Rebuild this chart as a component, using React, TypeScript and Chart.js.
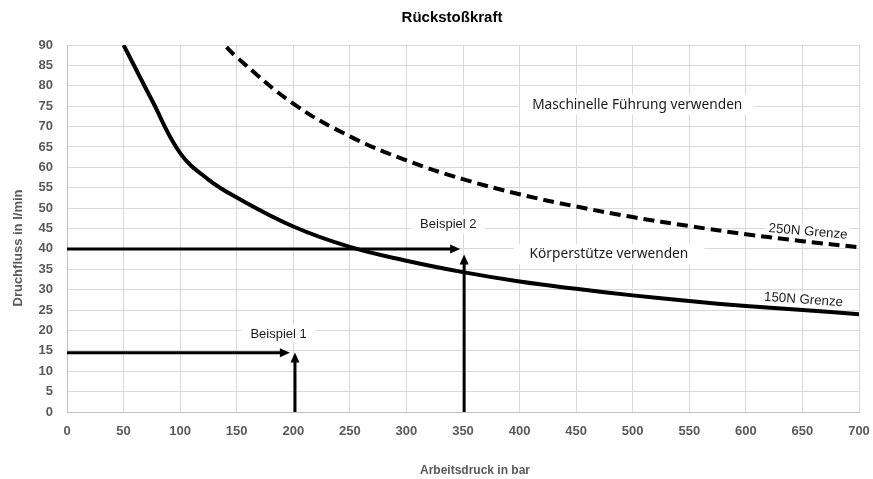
import { useEffect, useRef } from "react";
import { Chart, registerables } from "chart.js";

Chart.register(...registerables);

// ---- data ----
const xTicks = [0, 50, 100, 150, 200, 250, 300, 350, 400, 450, 500, 550, 600, 650, 700];
const yTicks = [0, 5, 10, 15, 20, 25, 30, 35, 40, 45, 50, 55, 60, 65, 70, 75, 80, 85, 90];

const pressure150N = [50, 75, 100, 125, 150, 200, 250, 300, 350, 400, 450, 500, 550, 600, 650, 700];
const flow150N = [90, 76.5, 63.5, 57, 52.6, 45.5, 40.5, 37.1, 34.3, 32, 30.2, 28.6, 27.2, 26, 25, 24];

const pressure250N = [141, 150, 200, 250, 300, 350, 400, 450, 500, 550, 600, 650, 700];
const flow250N = [89.5, 87, 75.6, 67.6, 61.7, 57.1, 53.4, 50.4, 47.8, 45.6, 43.6, 41.9, 40.4];

// example arrows: horizontal (from flow axis) and vertical (from pressure axis)
const exampleFlow = [14.5, 40];
const exampleHorizontalEnd = [197, 347.5];
const examplePressure = [201.5, 351];
const exampleVerticalTip = [14.6, 38.6];

// text notes (data coordinates)
const noteTexts = ["Beispiel 1", "Beispiel 2", "Körperstütze verwenden", "Maschinelle Führung verwenden", "250N Grenze", "150N Grenze"];
const noteX = [187, 337, 479, 504, 655, 651];
const noteY = [19.1, 46.1, 38.7, 75.3, 44.2, 27.5];

const chartTitle = "Rückstoßkraft";
const xTitle = "Arbeitsdruck in bar";
const yTitle = "Druchfluss in l/min";

const noteStyles = [
  { font: "13px 'Liberation Sans', Arial, sans-serif", rot: 0, padX: 9, h: 18 },
  { font: "13px 'Liberation Sans', Arial, sans-serif", rot: 0, padX: 9, h: 18 },
  { font: "13.7px 'Noto Sans', sans-serif", rot: 0, padX: 16, h: 20 },
  { font: "13.7px 'Noto Sans', sans-serif", rot: 0, padX: 12, h: 20 },
  { font: "13.3px 'Liberation Sans', Arial, sans-serif", rot: 0.085, padX: 3, h: 14 },
  { font: "13.3px 'Liberation Sans', Arial, sans-serif", rot: 0.07, padX: 3, h: 14 },
];

const overlayPlugin = {
  id: "overlay",
  beforeDatasetsDraw(chart: any) {
    const { ctx, scales } = chart;
    const xs = scales.x, ys = scales.y;
    ctx.save();
    noteTexts.forEach((t, i) => {
      const st = noteStyles[i];
      const px = xs.getPixelForValue(noteX[i]);
      const py = ys.getPixelForValue(noteY[i]);
      ctx.font = st.font;
      const w = ctx.measureText(t).width + st.padX * 2;
      ctx.save();
      ctx.translate(px, py);
      ctx.rotate(st.rot);
      ctx.fillStyle = "#ffffff";
      ctx.fillRect(-w / 2, -st.h / 2, w, st.h);
      ctx.restore();
    });
    ctx.restore();
  },
  afterDatasetsDraw(chart: any) {
    const { ctx, scales } = chart;
    const xs = scales.x, ys = scales.y;
    ctx.save();
    ctx.strokeStyle = "#000";
    ctx.fillStyle = "#000";
    ctx.lineWidth = 3;
    const head = 10, half = 4.5;
    for (let i = 0; i < exampleFlow.length; i++) {
      const y = ys.getPixelForValue(exampleFlow[i]);
      const x0 = xs.getPixelForValue(0);
      const x1 = xs.getPixelForValue(exampleHorizontalEnd[i]);
      ctx.beginPath();
      ctx.moveTo(x0, y);
      ctx.lineTo(x1 - head + 1, y);
      ctx.stroke();
      ctx.beginPath();
      ctx.moveTo(x1, y);
      ctx.lineTo(x1 - head, y - half);
      ctx.lineTo(x1 - head, y + half);
      ctx.closePath();
      ctx.fill();
      const vx = xs.getPixelForValue(examplePressure[i]);
      const vy0 = ys.getPixelForValue(0);
      const vy1 = ys.getPixelForValue(exampleVerticalTip[i]);
      ctx.beginPath();
      ctx.moveTo(vx, vy0);
      ctx.lineTo(vx, vy1 + head - 1);
      ctx.stroke();
      ctx.beginPath();
      ctx.moveTo(vx, vy1);
      ctx.lineTo(vx - half, vy1 + head);
      ctx.lineTo(vx + half, vy1 + head);
      ctx.closePath();
      ctx.fill();
    }
    noteTexts.forEach((t, i) => {
      const st = noteStyles[i];
      const px = xs.getPixelForValue(noteX[i]);
      const py = ys.getPixelForValue(noteY[i]);
      ctx.save();
      ctx.translate(px, py);
      ctx.rotate(st.rot);
      ctx.font = st.font;
      ctx.fillStyle = "#1a1a1a";
      ctx.textAlign = "center";
      ctx.textBaseline = "middle";
      ctx.fillText(t, 0, 0);
      ctx.restore();
    });
    ctx.restore();
  },
  afterDraw(chart: any) {
    const { ctx } = chart;
    ctx.save();
    ctx.textAlign = "center";
    ctx.textBaseline = "middle";
    ctx.fillStyle = "#000";
    ctx.font = "bold 15px 'Liberation Sans', Arial, sans-serif";
    ctx.fillText(chartTitle, 452, 18);
    ctx.fillStyle = "#595959";
    ctx.font = "bold 12px 'Liberation Sans', Arial, sans-serif";
    ctx.fillText(xTitle, 475, 470.5);
    ctx.save();
    ctx.translate(18, 248);
    ctx.rotate(-Math.PI / 2);
    ctx.font = "bold 13px 'Liberation Sans', Arial, sans-serif";
    ctx.fillText(yTitle, 0, 0);
    ctx.restore();
    ctx.restore();
  },
};

export default function App() {
  const ref = useRef<HTMLCanvasElement>(null);
  useEffect(() => {
    if (!ref.current) return;
    const tickFont = { family: "'Liberation Sans', Arial, sans-serif", size: 13, weight: "bold" as const, lineHeight: 1.2 };
    const chart = new Chart(ref.current, {
      type: "line",
      data: {
        datasets: [
          {
            label: "150N Grenze",
            data: pressure150N.map((p, i) => ({ x: p, y: flow150N[i] })),
            borderColor: "#000",
            borderWidth: 4,
            pointRadius: 0,
            tension: 0.4,
            fill: false,
          },
          {
            label: "250N Grenze",
            data: pressure250N.map((p, i) => ({ x: p, y: flow250N[i] })),
            borderColor: "#000",
            borderWidth: 4,
            borderDash: [11, 6],
            pointRadius: 0,
            tension: 0.4,
            fill: false,
          },
        ],
      },
      options: {
        responsive: false,
        animation: false,
        layout: { padding: { top: 45, right: 14, left: 0, bottom: 0 } },
        plugins: { legend: { display: false }, title: { display: false }, tooltip: { enabled: false } },
        scales: {
          x: {
            type: "linear",
            min: xTicks[0],
            max: xTicks[xTicks.length - 1],
            afterBuildTicks: (s: any) => { s.ticks = xTicks.map((v) => ({ value: v })); },
            afterFit: (s: any) => { s.height = 67; s.paddingLeft = 0; s.paddingRight = 0; },
            ticks: { font: tickFont, color: "#595959", padding: 12, maxRotation: 0, autoSkip: false },
            grid: { color: "#d9d9d9", drawTicks: false },
            border: { color: "#bfbfbf" },
          },
          y: {
            type: "linear",
            min: yTicks[0],
            max: yTicks[yTicks.length - 1],
            afterBuildTicks: (s: any) => { s.ticks = yTicks.map((v) => ({ value: v })); },
            afterFit: (s: any) => { s.width = 67; s.paddingTop = 0; s.paddingBottom = 0; },
            ticks: { font: tickFont, color: "#595959", padding: 14, autoSkip: false },
            grid: { color: "#d9d9d9", drawTicks: false },
            border: { color: "#bfbfbf" },
          },
        },
      },
      plugins: [overlayPlugin],
    });
    return () => chart.destroy();
  }, []);
  return (
    <div style={{ position: "fixed", left: 0, top: 0, width: 873, height: 479, background: "#fff" }}>
      <canvas ref={ref} width={873} height={479} style={{ width: 873, height: 479 }} />
    </div>
  );
}
